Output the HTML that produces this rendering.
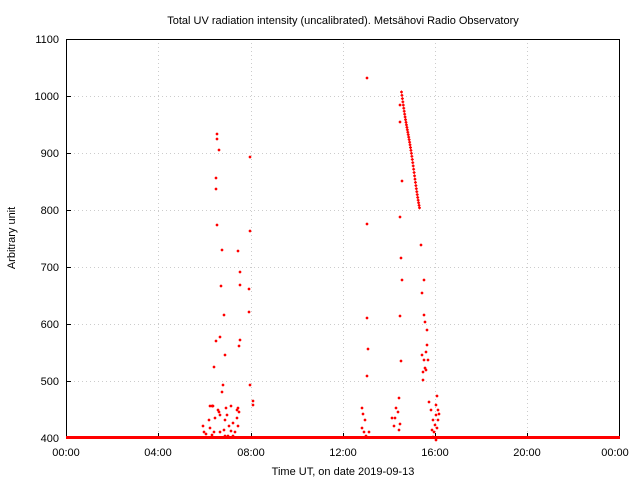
<!DOCTYPE html>
<html><head><meta charset="utf-8"><style>
html,body{margin:0;padding:0;background:#fff;}
svg{display:block;font-family:"Liberation Sans",sans-serif;}
</style></head><body>
<svg id="s" width="640" height="480" xmlns="http://www.w3.org/2000/svg">
<rect width="640" height="480" fill="#fff"/>
<g stroke="#ccc" stroke-dasharray="1,3" stroke-width="1">
<line x1="66" y1="96.5" x2="620" y2="96.5"/><line x1="66" y1="153.5" x2="620" y2="153.5"/>
<line x1="66" y1="210.5" x2="620" y2="210.5"/><line x1="66" y1="267.5" x2="620" y2="267.5"/>
<line x1="66" y1="324.5" x2="620" y2="324.5"/><line x1="66" y1="381.5" x2="620" y2="381.5"/>
<line x1="158.5" y1="39" x2="158.5" y2="438"/><line x1="251.5" y1="39" x2="251.5" y2="438"/>
<line x1="343.5" y1="39" x2="343.5" y2="438"/><line x1="435.5" y1="39" x2="435.5" y2="438"/>
<line x1="527.5" y1="39" x2="527.5" y2="438"/>
</g>
<rect x="66.5" y="39.5" width="553" height="399" fill="none" stroke="#000"/>
<g stroke="#000">
<line x1="158.5" y1="438" x2="158.5" y2="433"/><line x1="251.5" y1="438" x2="251.5" y2="433"/>
<line x1="343.5" y1="438" x2="343.5" y2="433"/><line x1="435.5" y1="438" x2="435.5" y2="433"/>
<line x1="527.5" y1="438" x2="527.5" y2="433"/>
<line x1="66" y1="96.5" x2="71" y2="96.5"/><line x1="66" y1="153.5" x2="71" y2="153.5"/>
<line x1="66" y1="210.5" x2="71" y2="210.5"/><line x1="66" y1="267.5" x2="71" y2="267.5"/>
<line x1="66" y1="324.5" x2="71" y2="324.5"/><line x1="66" y1="381.5" x2="71" y2="381.5"/>
</g>
<g font-size="11" fill="#000" text-anchor="end">
<text x="59" y="43">1100</text><text x="59" y="100">1000</text><text x="59" y="157">900</text>
<text x="59" y="214">800</text><text x="59" y="271">700</text><text x="59" y="328">600</text>
<text x="59" y="385">500</text><text x="59" y="442">400</text>
</g>
<g font-size="11" fill="#000" text-anchor="middle">
<text x="66" y="456">00:00</text><text x="158" y="456">04:00</text><text x="251" y="456">08:00</text>
<text x="343" y="456">12:00</text><text x="435" y="456">16:00</text><text x="527" y="456">20:00</text>
<text x="615" y="456">00:00</text>
<text x="343" y="24">Total UV radiation intensity (uncalibrated). Metsähovi Radio Observatory</text>
<text x="343" y="475">Time UT, on date 2019-09-13</text>
<text transform="translate(15,238) rotate(-90)">Arbitrary unit</text>
</g>
<rect x="66" y="436" width="554" height="3" fill="#f00"/>
<g id="pts" fill="#f00"></g>
</svg>
<script>
var p=[[217,134],[217,139],[216,178],[216,189],[219,150],[217,225],[222,250],[221,286],[224,315],[225,355],[216,341],[214,367],[220,337],[219,412],[218,410],[222,392],[223,385],[212,406],[220,415],[225,420],[227,415],[229,426],[226,408],[231,406],[233,423],[235,432],[238,426],[237,418],[237,410],[238,408],[239,412],[240,340],[239,346],[240,272],[238,251],[240,285],[250,157],[250,231],[249,289],[249,312],[250,385],[253,401],[253,405],[231,431],[224,430],[210,428],[212,435],[225,436],[203,426],[204,432],[210,406],[213,406],[214,432],[215,418],[209,420],[206,434],[220,432],[228,436],[233,436],
[362,408],[363,414],[362,428],[364,432],[365,420],[367,224],[367,318],[368,349],[367,376],[367,78],[369,432],[366,436],
[421,245],[422,293],[424,280],[424,315],[425,322],[427,330],[424,360],[423,380],[427,345],[428,360],[426,370],[429,402],[431,410],[432,430],[433,437],[434,432],[435,425],[436,415],[437,396],[438,410],[438,420],[433,420],[422,355],[423,372],[426,352],[425,368],[436,440],[437,428],[439,414],[436,405],
[400,122],[400,105],[402,181],[400,217],[401,258],[402,280],[400,316],[401,361],[399,398],[396,408],[395,418],[398,412],[400,424],[399,430],[392,418],[394,426]];
for(var i=0;i<=40;i++){var t=i/40;p.push([401.5+t*18,92+t*115+Math.sin(t*9)*2]);}
var g=document.getElementById('pts'),h='';
p.forEach(function(q){var x=q[0],y=q[1];h+='<rect x="'+(x-1.5)+'" y="'+(y-0.5)+'" width="3" height="1"/><rect x="'+(x-0.5)+'" y="'+(y-1.5)+'" width="1" height="3"/><rect x="'+(x-1)+'" y="'+(y-1)+'" width="2" height="2"/>';});
g.innerHTML=h;
</script>
</body></html>
